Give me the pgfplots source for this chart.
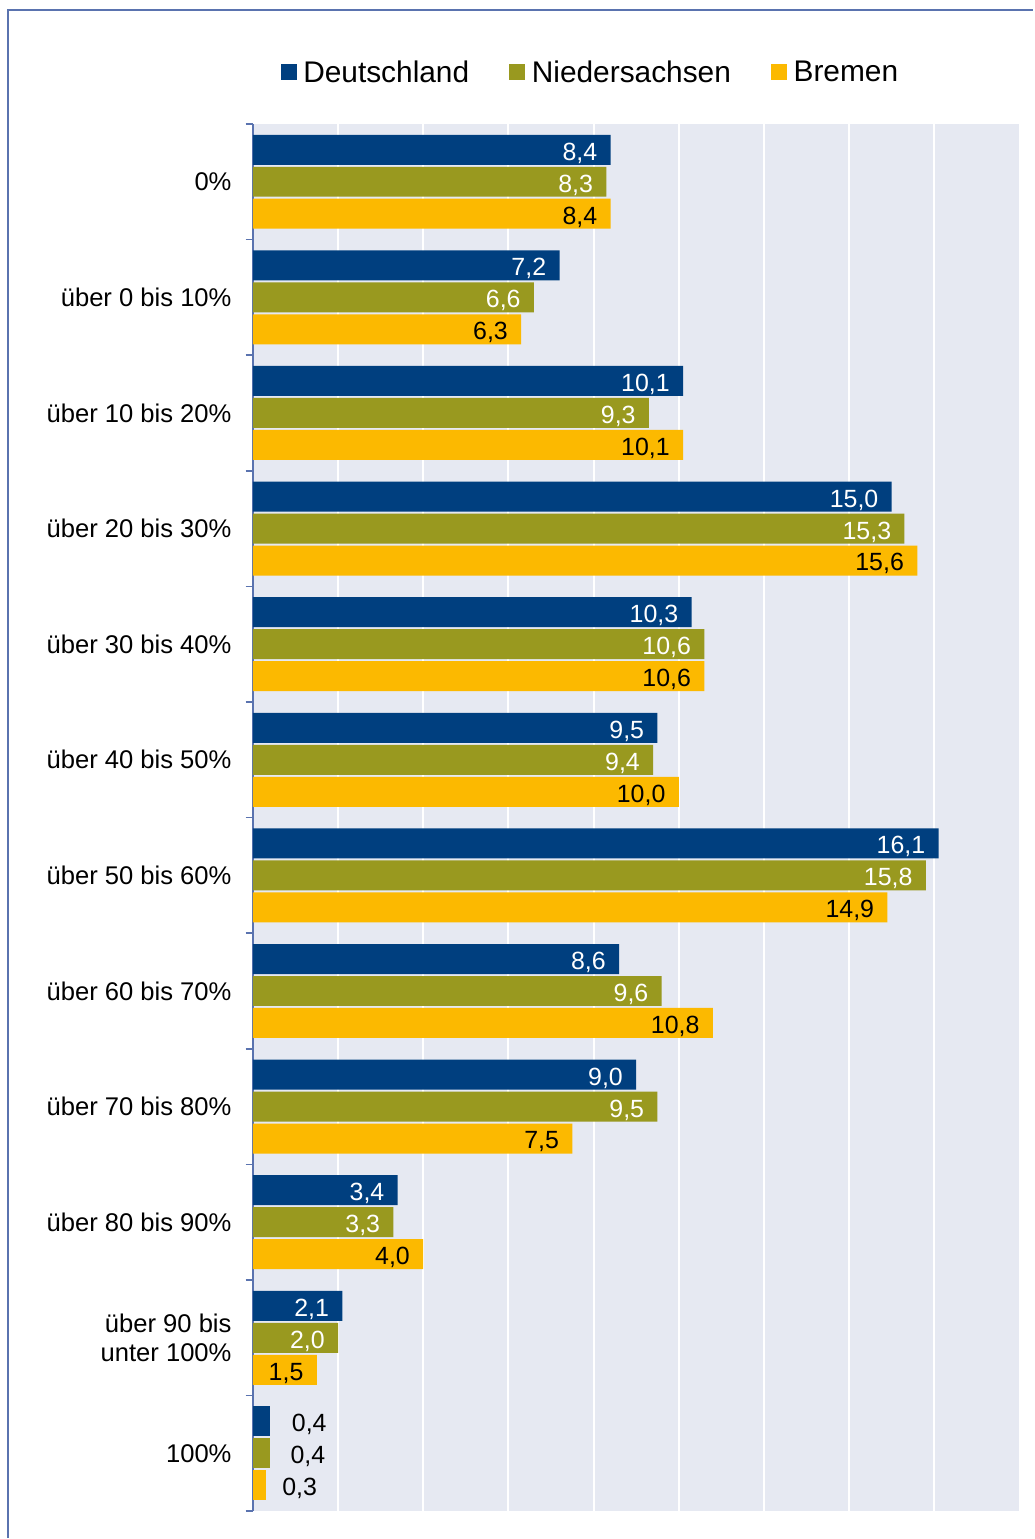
\documentclass[border=0pt]{standalone}
\usepackage{pgfplots}
\pgfplotsset{compat=1.18}
\usepackage{pgfplotstable}
\usepackage{fontspec}
\setmainfont{Liberation Sans}

\definecolor{deu}{RGB}{0,63,127}
\definecolor{nds}{RGB}{153,153,31}
\definecolor{hb}{RGB}{252,185,0}
\definecolor{plotbg}{RGB}{230,233,242}
\definecolor{axcol}{RGB}{90,115,175}

% y = category index (0 = top)
\pgfplotstableread{
y   D     N     B
0   8.4   8.3   8.4
1   7.2   6.6   6.3
2   10.1  9.3   10.1
3   15.0  15.3  15.6
4   10.3  10.6  10.6
5   9.5   9.4   10.0
6   16.1  15.8  14.9
7   8.6   9.6   10.8
8   9.0   9.5   7.5
9   3.4   3.3   4.0
10  2.1   2.0   1.5
11  0.4   0.4   0.3
}\shares

\pgfplotsset{
  lbl/.style={
    nodes near coords={\pgfmathprintnumber[fixed,fixed zerofill,precision=1,use comma,assume math mode=true]{\pgfplotspointmeta}},
    every node near coord/.append style={font=\fontsize{18.7}{20}\selectfont, #1},
  },
}

\begin{document}
\begin{tikzpicture}
\begin{axis}[
    name=ax,
    scale only axis,
    width=575.25pt, height=1041pt,
    xmin=0, xmax=18,
    ymin=-0.5, ymax=11.5,
    y dir=reverse,
    axis background/.style={fill=plotbg},
    axis lines*=left,
    x axis line style={draw=none},
    y axis line style={axcol, line width=1.2pt},
    xtick={2,4,...,16}, xticklabels={},
    xmajorgrids,
    major grid style={white, line width=1.5pt},
    ytick={0,...,11},
    yticklabels={0\%, über 0 bis 10\%, über 10 bis 20\%, über 20 bis 30\%,
      über 30 bis 40\%, über 40 bis 50\%, über 50 bis 60\%, über 60 bis 70\%,
      über 70 bis 80\%, über 80 bis 90\%, {über 90 bis\\unter 100\%}, 100\%},
    yticklabel style={align=right, font=\fontsize{19.2}{21.5}\selectfont, xshift=-12.5pt},
    minor ytick={-0.5,0.5,...,11.5},
    major tick length=0pt,
    minor tick length=5.5pt,
    tick align=outside,
    tick style={axcol, line width=1.2pt},
    legend columns=3,
    legend style={draw=none, fill=none, at={(0.4407,1.0372)}, anchor=center,
      font=\fontsize{22.4}{24}\selectfont,
      /tikz/every odd column/.append style={column sep=3pt},
      /tikz/every even column/.append style={column sep=28pt}},
    legend image code/.code={\fill[#1] (0pt,-6pt) rectangle (12pt,6pt);},
]
\addplot[xbar, bar width=22.5pt, bar shift=24pt, fill=deu, draw=none,
  lbl={white, anchor=east, xshift=-6.5pt, yshift=21.5pt}, restrict y to domain=0:10]
  table[x=D, y=y] {\shares};
\addlegendentry{Deutschland}
\addplot[xbar, bar width=22.5pt, bar shift=0pt, fill=nds, draw=none,
  lbl={white, anchor=east, xshift=-6.5pt, yshift=-2.5pt}, restrict y to domain=0:10]
  table[x=N, y=y] {\shares};
\addlegendentry{Niedersachsen}
\addplot[xbar, bar width=22.5pt, bar shift=-24pt, fill=hb, draw=none,
  lbl={black, anchor=east, xshift=-6.5pt, yshift=-26.5pt}, restrict y to domain=0:10]
  table[x=B, y=y] {\shares};
\addlegendentry{Bremen}
% 100%: labels outside the short bars
\addplot[forget plot, xbar, bar width=22.5pt, bar shift=24pt, fill=deu, draw=none,
  lbl={black, anchor=west, xshift=13pt, yshift=21.5pt}, restrict y to domain=11:11]
  table[x=D, y=y] {\shares};
\addplot[forget plot, xbar, bar width=22.5pt, bar shift=0pt, fill=nds, draw=none,
  lbl={black, anchor=west, xshift=12pt, yshift=-2.5pt}, restrict y to domain=11:11]
  table[x=N, y=y] {\shares};
\addplot[forget plot, xbar, bar width=22.5pt, bar shift=-24pt, fill=hb, draw=none,
  lbl={black, anchor=west, xshift=9pt, yshift=-26.5pt}, restrict y to domain=11:11]
  table[x=B, y=y] {\shares};
\end{axis}
% page extent and outer frame
\coordinate (BL) at ([xshift=-189.75pt, yshift=-20.25pt]ax.south west);
\coordinate (TR) at ([xshift=10.5pt, yshift=93pt]ax.north east);
\path (BL) rectangle (TR);
\draw[axcol, line width=1.2pt] ([xshift=6pt]BL) |- ([yshift=-7.5pt]TR);
\end{tikzpicture}
\end{document}
